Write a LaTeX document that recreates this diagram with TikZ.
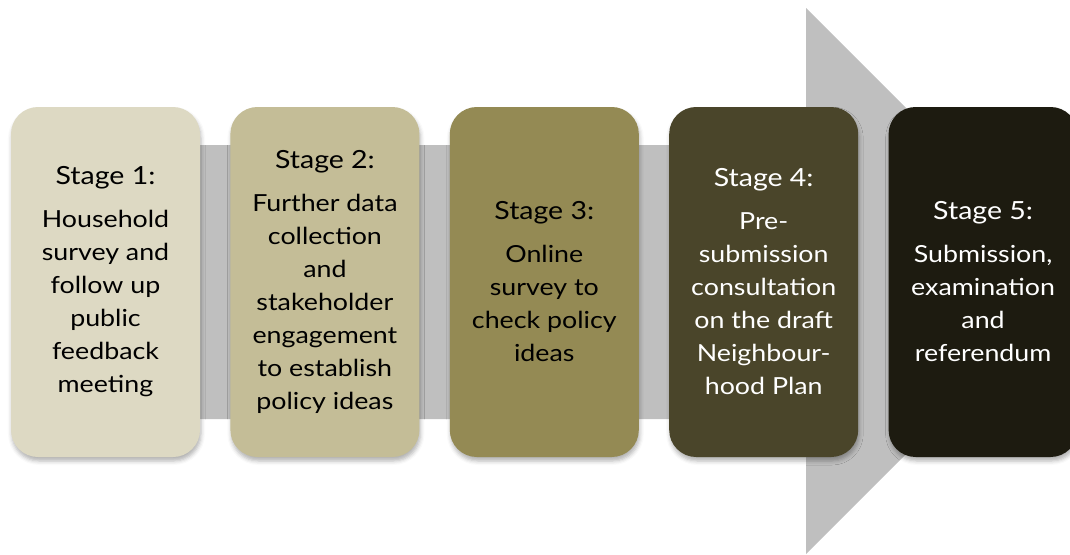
\documentclass[tikz,border=0pt]{standalone}
\usepackage{fontspec}
\setmainfont{Lato}[FakeStretch=1.14]
\usetikzlibrary{positioning,shadows.blur}

\definecolor{stageA}{HTML}{DDD9C3}
\definecolor{stageB}{HTML}{C4BD97}
\definecolor{stageC}{HTML}{948A54}
\definecolor{stageD}{HTML}{4A452A}
\definecolor{stageE}{HTML}{1D1B10}
\definecolor{arrowgrey}{HTML}{BFBFBF}

\newcommand{\stagehead}[1]{{\fontsize{25}{33}\selectfont #1}\\[10pt]}

\begin{document}
\begin{tikzpicture}[x=1pt,y=-1pt,
    node distance=30pt,
    stage/.style={rounded corners=27pt, minimum width=189pt, minimum height=350pt,
      align=center, inner sep=0pt,
      font=\fontsize{23.5}{33}\selectfont,
      blur shadow={shadow xshift=1pt, shadow yshift=-4pt, shadow blur radius=4pt, shadow opacity=30}},
    darkstage/.style={stage, text=white}]
    \path[use as bounding box, clip] (0,0) rectangle (1070,554);
    % grey arrow behind the stages
    \fill[arrowgrey] (30,145) -- (806,145) -- (806,8) -- (1079,281)
      -- (806,554) -- (806,419) -- (30,419) -- cycle;
    \node[stage, fill=stageA] (s1) at (105.5,282) {\stagehead{Stage 1:}
      Household\\survey and\\follow up\\public\\feedback\\meeting};
    \node[stage, fill=stageB, right=of s1] (s2) {\stagehead{Stage 2:}
      Further data\\collection\\and\\stakeholder\\engagement\\to establish\\policy ideas};
    \node[stage, fill=stageC, right=of s2] (s3) {\stagehead{Stage 3:}
      Online\\survey to\\check policy\\ideas};
    \node[darkstage, fill=stageD, right=of s3] (s4) {\stagehead{Stage 4:}
      Pre-\\submission\\consultation\\on the draft\\Neighbour-\\hood Plan};
    \node[darkstage, fill=stageE, right=of s4] (s5) {\stagehead{Stage 5:}
      Submission,\\examination\\and\\referendum};
\end{tikzpicture}
\end{document}
